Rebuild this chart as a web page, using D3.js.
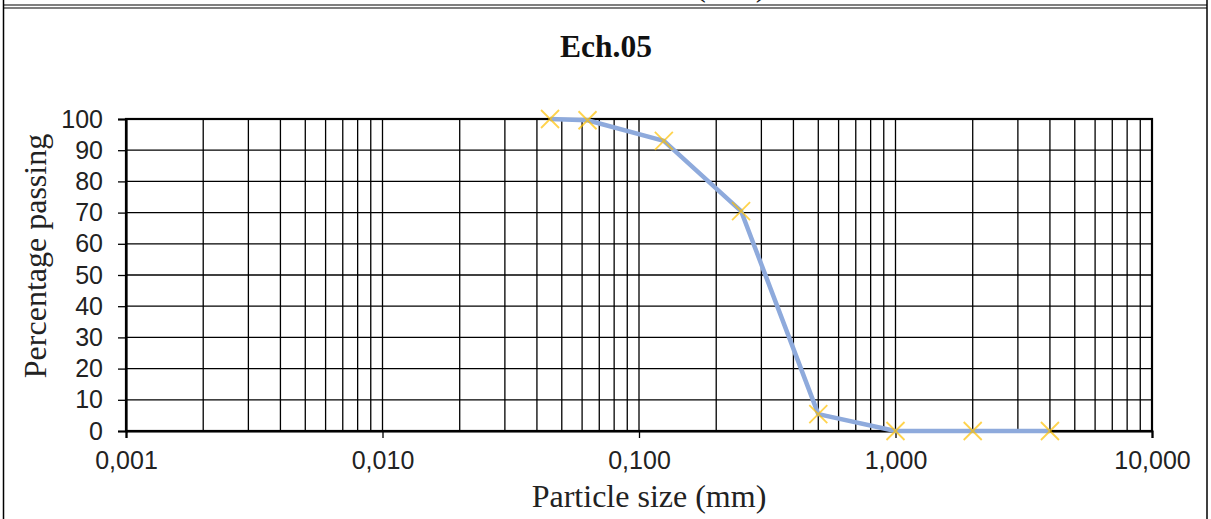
<!DOCTYPE html>
<html>
<head>
<meta charset="utf-8">
<script src="https://cdn.jsdelivr.net/npm/d3@7"></script>
<style>
  html, body { margin: 0; padding: 0; background: #fff; }
  svg { display: block; }
</style>
</head>
<body>
<div id="chart"></div>
<script>
// grain size data
var sizes = [0.045, 0.063, 0.125, 0.25, 0.5, 1, 2, 4];
var passing = [100, 99.6, 93, 70.5, 5.4, 0, 0, 0];

var xLabelTicks = [0.001, 0.01, 0.1, 1, 10];
var yTicks = [0, 10, 20, 30, 40, 50, 60, 70, 80, 90, 100];

var chartTitle = "Ech.05";
var xTitle = "Particle size (mm)";
var yTitle = "Percentage passing";

var W = 1211, H = 519;
var plot = { left: 126, right: 1152, top: 119, bottom: 431 };

var svg = d3.select("#chart").append("svg")
    .attr("width", W)
    .attr("height", H);

// frame of the table cell around the chart
svg.append("line").attr("x1", 3.5).attr("x2", 3.5).attr("y1", 0).attr("y2", H)
    .attr("stroke", "#000").attr("stroke-width", 1.5);
svg.append("line").attr("x1", 1207).attr("x2", 1207).attr("y1", 0).attr("y2", H)
    .attr("stroke", "#000").attr("stroke-width", 1.5);
svg.append("line").attr("x1", 3.5).attr("x2", 1207).attr("y1", 5).attr("y2", 5)
    .attr("stroke", "#000").attr("stroke-width", 1.2);
svg.append("line").attr("x1", 3.5).attr("x2", 1207).attr("y1", 8).attr("y2", 8)
    .attr("stroke", "#000").attr("stroke-width", 1.2);

// bottom of the previous chart's axis title, cut off by the page top (as in the reference)
svg.append("text")
    .attr("x", 649).attr("y", -4)
    .attr("text-anchor", "middle")
    .attr("font-family", "Liberation Serif, Times New Roman, serif")
    .attr("font-size", 32)
    .attr("fill", "#222")
    .text(xTitle);

var x = d3.scaleLog()
    .domain([0.001, 10])
    .range([plot.left, plot.right]);

var y = d3.scaleLinear()
    .domain([0, 100])
    .range([plot.bottom, plot.top]);

var fmt = d3.formatLocale({ decimal: ",", thousands: ".", grouping: [3], currency: ["", ""] }).format(".3f");

var g = svg.append("g");

// vertical grid, every 1..9 of each decade
g.append("g")
    .selectAll("line")
    .data(x.ticks())
    .enter().append("line")
    .attr("x1", d => x(d)).attr("x2", d => x(d))
    .attr("y1", plot.top).attr("y2", plot.bottom)
    .attr("stroke", "#000")
    .attr("stroke-width", 1.3);

// horizontal grid
g.append("g")
    .selectAll("line")
    .data(yTicks)
    .enter().append("line")
    .attr("x1", plot.left).attr("x2", plot.right)
    .attr("y1", d => y(d)).attr("y2", d => y(d))
    .attr("stroke", "#000")
    .attr("stroke-width", 1.3);

// plot border
g.append("rect")
    .attr("x", plot.left).attr("y", plot.top)
    .attr("width", plot.right - plot.left)
    .attr("height", plot.bottom - plot.top)
    .attr("fill", "none")
    .attr("stroke", "#000")
    .attr("stroke-width", 2.2);

// axes
var yAxis = g.append("g")
    .attr("transform", "translate(" + plot.left + ",0)")
    .call(d3.axisLeft(y).tickValues(yTicks).tickSize(8).tickPadding(15).tickFormat(d3.format("d")));

var xAxis = g.append("g")
    .attr("transform", "translate(0," + plot.bottom + ")")
    .call(d3.axisBottom(x).tickValues(xLabelTicks).tickSize(7).tickPadding(13).tickFormat(fmt));

[yAxis, xAxis].forEach(function(a) {
    a.select(".domain").attr("stroke", "#000").attr("stroke-width", 2.2);
    a.selectAll(".tick line").attr("stroke", "#000").attr("stroke-width", 1.3);
    a.selectAll(".tick text")
        .attr("font-family", "Liberation Sans, Arial, sans-serif")
        .attr("font-size", 25)
        .attr("fill", "#222");
});

// curve
var pts = sizes.map((s, i) => [s, passing[i]]);

g.append("path")
    .datum(pts)
    .attr("fill", "none")
    .attr("stroke", "#8eaadc")
    .attr("stroke-width", 4.5)
    .attr("stroke-linejoin", "round")
    .attr("d", d3.line().x(d => x(d[0])).y(d => y(d[1])));

// x markers
var m = 9;
g.append("g")
    .selectAll("path")
    .data(pts)
    .enter().append("path")
    .attr("d", function(d) {
        var cx = x(d[0]), cy = y(d[1]);
        return "M" + (cx - m) + "," + (cy - m) + "L" + (cx + m) + "," + (cy + m) +
               "M" + (cx - m) + "," + (cy + m) + "L" + (cx + m) + "," + (cy - m);
    })
    .attr("stroke", "#ffc000")
    .attr("stroke-opacity", 0.7)
    .attr("stroke-width", 1.8)
    .attr("fill", "none");

// titles
svg.append("text")
    .attr("x", 606).attr("y", 57)
    .attr("text-anchor", "middle")
    .attr("font-family", "Liberation Serif, Times New Roman, serif")
    .attr("font-weight", "bold")
    .attr("font-size", 31.5)
    .attr("fill", "#111")
    .text(chartTitle);

svg.append("text")
    .attr("x", 649).attr("y", 507)
    .attr("text-anchor", "middle")
    .attr("font-family", "Liberation Serif, Times New Roman, serif")
    .attr("font-size", 32)
    .attr("fill", "#222")
    .text(xTitle);

svg.append("text")
    .attr("transform", "translate(46,256) rotate(-90)")
    .attr("text-anchor", "middle")
    .attr("font-family", "Liberation Serif, Times New Roman, serif")
    .attr("font-size", 32)
    .attr("fill", "#222")
    .text(yTitle);
</script>
</body>
</html>
